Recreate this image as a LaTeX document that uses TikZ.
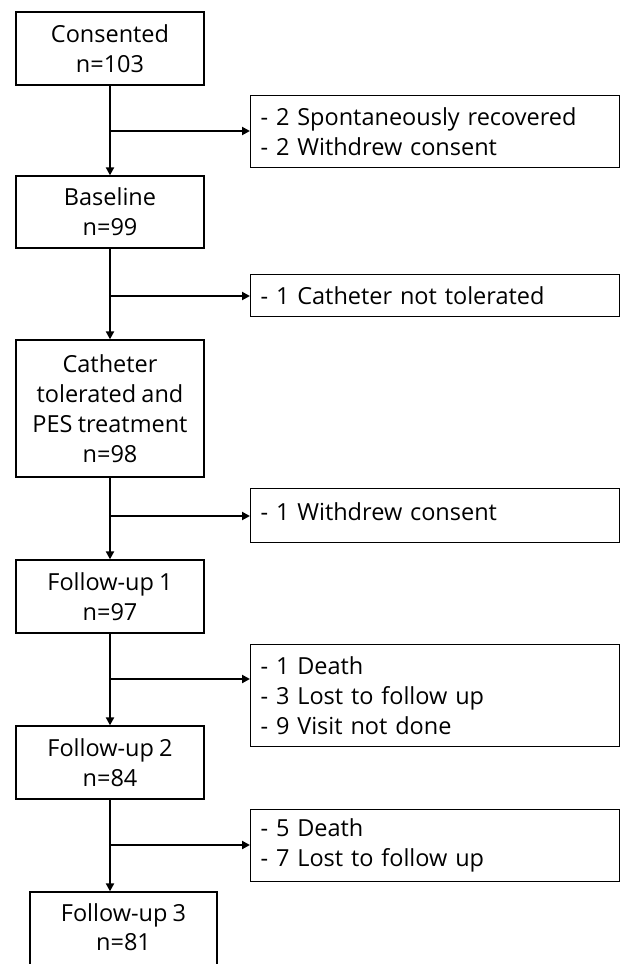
\documentclass[tikz,border=0pt]{standalone}
\usepackage{fontspec}
\setmainfont{Open Sans}
\usetikzlibrary{arrows.meta}
\newcommand\diagfont{\fontsize{23.5}{30}\selectfont\spaceskip=5.2pt\relax}
\begin{document}
\begin{tikzpicture}[x=1pt,y=-1pt,
  every node/.style={font=\diagfont},
  mainbox/.style={draw, line width=1.3pt, minimum width=188pt, align=center, inner sep=0pt},
  sidebox/.style={draw, line width=1.3pt, minimum width=369pt, text width=349pt, align=left, inner xsep=10pt, inner ysep=0pt, anchor=north west},
  flowarrow/.style={line width=2pt, -{Triangle[length=8pt,width=8pt]}}
]
\useasboundingbox (0,0) rectangle (620,964);
\fill[white] (0,0) rectangle (620,964);

% main column
\node[mainbox, minimum height=73pt] (cons) at (110,48.5) {Consented\\n=103};
\node[mainbox, minimum height=72pt] (base) at (110,212) {Baseline\\n=99};
\node[mainbox, minimum height=137pt] (cath) at (110,408.5) {Catheter\\tolerated and\\PES treatment\\n=98};
\node[mainbox, minimum height=73pt] (fu1) at (110,596.5) {Follow-up 1\\n=97};
\node[mainbox, minimum height=73pt] (fu2) at (110,762.5) {Follow-up 2\\n=84};
\node[mainbox, minimum width=187pt, minimum height=73pt] (fu3) at (123.5,928.5) {\raisebox{2.5pt}{\shortstack{Follow-up 3\\[3pt]n=81}}};

% side boxes
\node[sidebox, minimum height=72pt] (r1) at (250,95) {- 2 Spontaneously recovered\\- 2 Withdrew consent};
\node[sidebox, minimum height=42pt] (r2) at (250,274) {- 1 Catheter not tolerated};
\node[sidebox, minimum height=54pt] (r3) at (250,488) {\raisebox{9pt}{- 1 Withdrew consent}};
\node[sidebox, minimum height=102pt] (r4) at (250,644) {- 1 Death\\- 3 Lost to follow up\\- 9 Visit not done};
\node[sidebox, minimum height=72pt] (r5) at (250,809) {- 5 Death\\- 7 Lost to follow up};

% junctions
\coordinate (j1) at (110,131);
\coordinate (j2) at (110,296);
\coordinate (j3) at (110,516);
\coordinate (j4) at (110,679);
\coordinate (j5) at (110,845);

% vertical arrows
\draw[flowarrow] (cons.south) -- (base.north);
\draw[flowarrow] (base.south) -- (cath.north);
\draw[flowarrow] (cath.south) -- (fu1.north);
\draw[flowarrow] (fu1.south) -- (fu2.north);
\draw[flowarrow] (fu2.south) -- (fu2.south |- fu3.north);

% side arrows
\draw[flowarrow] (j1) -- (j1 -| r1.west);
\draw[flowarrow] (j2) -- (j2 -| r2.west);
\draw[flowarrow] (j3) -- (j3 -| r3.west);
\draw[flowarrow] (j4) -- (j4 -| r4.west);
\draw[flowarrow] (j5) -- (j5 -| r5.west);
\end{tikzpicture}
\end{document}
